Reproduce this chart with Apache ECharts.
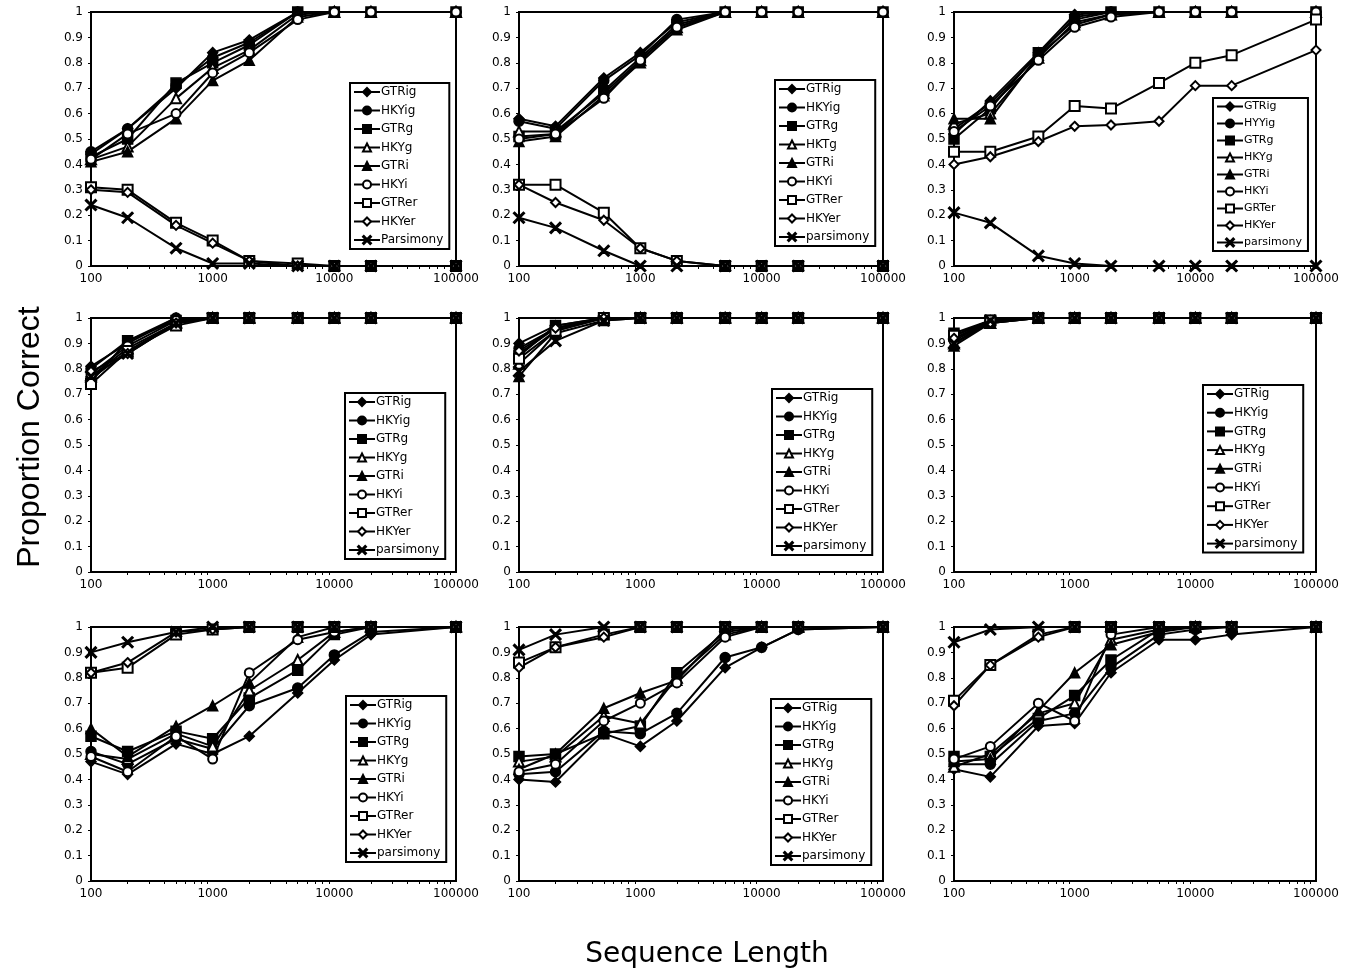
<!DOCTYPE html>
<html>
<head>
<meta charset="utf-8">
<script src="https://cdn.jsdelivr.net/npm/echarts@6/dist/echarts.min.js"></script>
<style>
html, body { margin: 0; padding: 0; background: #fff; }
#main { width: 1348px; height: 975px; }
</style>
</head>
<body>
<div id="main"></div>
<script>
var xValues = [100, 200, 500, 1000, 2000, 5000, 10000, 20000, 100000];

// legend names per panel (panel 9 has no legend)
var namesStd = ['GTRig', 'HKYig', 'GTRg', 'HKYg', 'GTRi', 'HKYi', 'GTRer', 'HKYer', 'parsimony'];
var names1 = ['GTRig', 'HKYig', 'GTRg', 'HKYg', 'GTRi', 'HKYi', 'GTRer', 'HKYer', 'Parsimony'];
var names2 = ['GTRig', 'HKYig', 'GTRg', 'HKTg', 'GTRi', 'HKYi', 'GTRer', 'HKYer', 'parsimony'];
var names3 = ['GTRig', 'HYYig', 'GTRg', 'HKYg', 'GTRi', 'HKYi', 'GRTer', 'HKYer', 'parsimony'];

// proportion correct, one row per series, one column per sequence length
var panel1 = [
	[0.44, 0.54, 0.70, 0.84, 0.89, 1, 1, 1, 1],
	[0.45, 0.54, 0.71, 0.82, 0.88, 1, 1, 1, 1],
	[0.43, 0.50, 0.72, 0.80, 0.87, 1, 1, 1, 1],
	[0.42, 0.47, 0.66, 0.78, 0.85, 0.99, 1, 1, 1],
	[0.41, 0.45, 0.58, 0.73, 0.81, 0.98, 1, 1, 1],
	[0.42, 0.52, 0.60, 0.76, 0.84, 0.97, 1, 1, 1],
	[0.31, 0.30, 0.17, 0.10, 0.02, 0.01, 0, 0, 0],
	[0.30, 0.29, 0.16, 0.09, 0.02, 0, 0, 0, 0],
	[0.24, 0.19, 0.07, 0.01, 0.01, 0, 0, 0, 0]
];
var panel2 = [
	[0.58, 0.55, 0.74, 0.84, 0.96, 1, 1, 1, 1],
	[0.57, 0.54, 0.73, 0.83, 0.97, 1, 1, 1, 1],
	[0.51, 0.52, 0.69, 0.82, 0.95, 1, 1, 1, 1],
	[0.53, 0.53, 0.68, 0.81, 0.94, 1, 1, 1, 1],
	[0.49, 0.51, 0.67, 0.80, 0.93, 1, 1, 1, 1],
	[0.50, 0.52, 0.66, 0.81, 0.94, 1, 1, 1, 1],
	[0.32, 0.32, 0.21, 0.07, 0.02, 0, 0, 0, 0],
	[0.32, 0.25, 0.18, 0.07, 0.02, 0, 0, 0, 0],
	[0.19, 0.15, 0.06, 0, 0, 0, 0, 0, 0]
];
var panel3 = [
	[0.52, 0.65, 0.84, 0.99, 1, 1, 1, 1, 1],
	[0.54, 0.64, 0.83, 0.98, 1, 1, 1, 1, 1],
	[0.50, 0.62, 0.84, 0.97, 1, 1, 1, 1, 1],
	[0.56, 0.60, 0.82, 0.96, 0.99, 1, 1, 1, 1],
	[0.58, 0.58, 0.83, 0.95, 0.99, 1, 1, 1, 1],
	[0.53, 0.63, 0.81, 0.94, 0.98, 1, 1, 1, 1],
	[0.45, 0.45, 0.51, 0.63, 0.62, 0.72, 0.80, 0.83, 0.97],
	[0.40, 0.43, 0.49, 0.55, 0.555, 0.57, 0.71, 0.71, 0.85],
	[0.21, 0.17, 0.04, 0.01, 0, 0, 0, 0, 0]
];
var panel4 = [
	[0.81, 0.90, 1, 1, 1, 1, 1, 1, 1],
	[0.80, 0.91, 1, 1, 1, 1, 1, 1, 1],
	[0.75, 0.91, 0.99, 1, 1, 1, 1, 1, 1],
	[0.77, 0.88, 0.98, 1, 1, 1, 1, 1, 1],
	[0.76, 0.87, 0.98, 1, 1, 1, 1, 1, 1],
	[0.78, 0.89, 0.99, 1, 1, 1, 1, 1, 1],
	[0.74, 0.87, 0.97, 1, 1, 1, 1, 1, 1],
	[0.79, 0.86, 0.98, 1, 1, 1, 1, 1, 1],
	[0.77, 0.86, 0.98, 1, 1, 1, 1, 1, 1]
];
var panel5 = [
	[0.90, 0.97, 1, 1, 1, 1, 1, 1, 1],
	[0.88, 0.96, 1, 1, 1, 1, 1, 1, 1],
	[0.85, 0.97, 1, 1, 1, 1, 1, 1, 1],
	[0.82, 0.95, 1, 1, 1, 1, 1, 1, 1],
	[0.77, 0.94, 0.99, 1, 1, 1, 1, 1, 1],
	[0.86, 0.96, 1, 1, 1, 1, 1, 1, 1],
	[0.84, 0.95, 1, 1, 1, 1, 1, 1, 1],
	[0.87, 0.96, 1, 1, 1, 1, 1, 1, 1],
	[0.79, 0.91, 0.99, 1, 1, 1, 1, 1, 1]
];
var panel6 = [
	[0.93, 0.99, 1, 1, 1, 1, 1, 1, 1],
	[0.92, 0.99, 1, 1, 1, 1, 1, 1, 1],
	[0.94, 0.99, 1, 1, 1, 1, 1, 1, 1],
	[0.90, 0.98, 1, 1, 1, 1, 1, 1, 1],
	[0.89, 0.98, 1, 1, 1, 1, 1, 1, 1],
	[0.91, 0.99, 1, 1, 1, 1, 1, 1, 1],
	[0.93, 0.99, 1, 1, 1, 1, 1, 1, 1],
	[0.92, 0.98, 1, 1, 1, 1, 1, 1, 1],
	[0.90, 0.99, 1, 1, 1, 1, 1, 1, 1]
];
var panel7 = [
	[0.47, 0.42, 0.54, 0.50, 0.57, 0.74, 0.87, 0.97, 1],
	[0.51, 0.46, 0.56, 0.52, 0.69, 0.76, 0.89, 0.98, 1],
	[0.57, 0.51, 0.59, 0.56, 0.72, 0.83, 0.97, 1, 1],
	[0.50, 0.48, 0.58, 0.53, 0.75, 0.87, 0.98, 1, 1],
	[0.60, 0.49, 0.61, 0.69, 0.78, 0.96, 1, 1, 1],
	[0.49, 0.43, 0.57, 0.48, 0.82, 0.95, 0.98, 1, 1],
	[0.82, 0.84, 0.97, 0.99, 1, 1, 1, 1, 1],
	[0.82, 0.86, 0.98, 0.99, 1, 1, 1, 1, 1],
	[0.90, 0.94, 0.98, 1, 1, 1, 1, 1, 1]
];
var panel8 = [
	[0.40, 0.39, 0.58, 0.53, 0.63, 0.84, 0.92, 0.99, 1],
	[0.42, 0.43, 0.59, 0.58, 0.66, 0.88, 0.92, 0.99, 1],
	[0.49, 0.50, 0.58, 0.61, 0.82, 0.98, 1, 1, 1],
	[0.47, 0.49, 0.65, 0.62, 0.80, 0.97, 1, 1, 1],
	[0.44, 0.50, 0.68, 0.74, 0.79, 0.99, 1, 1, 1],
	[0.43, 0.46, 0.63, 0.70, 0.78, 0.96, 1, 1, 1],
	[0.86, 0.92, 0.97, 1, 1, 1, 1, 1, 1],
	[0.84, 0.92, 0.96, 1, 1, 1, 1, 1, 1],
	[0.91, 0.97, 1, 1, 1, 1, 1, 1, 1]
];
var panel9 = [
	[0.44, 0.41, 0.61, 0.62, 0.82, 0.95, 0.95, 0.97, 1],
	[0.46, 0.46, 0.63, 0.66, 0.84, 0.97, 0.99, 1, 1],
	[0.49, 0.49, 0.64, 0.73, 0.87, 0.99, 1, 1, 1],
	[0.45, 0.50, 0.66, 0.70, 0.95, 0.99, 1, 1, 1],
	[0.47, 0.48, 0.67, 0.82, 0.93, 0.98, 1, 1, 1],
	[0.48, 0.53, 0.70, 0.63, 0.97, 1, 1, 1, 1],
	[0.71, 0.85, 0.97, 1, 1, 1, 1, 1, 1],
	[0.69, 0.85, 0.96, 1, 1, 1, 1, 1, 1],
	[0.94, 0.99, 1, 1, 1, 1, 1, 1, 1]
];

var panels = [panel1, panel2, panel3, panel4, panel5, panel6, panel7, panel8, panel9];
var panelNames = [names1, names2, names3, namesStd, namesStd, namesStd, namesStd, namesStd, namesStd];

var crossPath = 'path://M0,2L2,0L10,8L18,0L20,2L12,10L20,18L18,20L10,12L2,20L0,18L8,10Z';
var symbols = ['diamond', 'circle', 'rect', 'emptyTriangle', 'triangle', 'emptyCircle', 'emptyRect', 'emptyDiamond', crossPath];
var symbolSizes = [10, 10, 10, 10, 10, 9, 10, 9, 11];

var FONT = 'DejaVu Sans';

// plot boxes: [left, top, width, height]
var colLeft = [91, 519, 954];
var colWidth = [365, 364, 362];
var rowTop = [12, 318, 627];
var rowHeight = 254;

// legend boxes [left, top, itemGap, fontSize]
var legendPos = [
	[350, 83, 6.5, 12],
	[775, 80, 6.5, 12],
	[1213, 98, 6, 11],
	[345, 393, 6.5, 12],
	[772, 389, 6.5, 12],
	[1203, 385, 6.7, 12],
	[346, 696, 6.5, 12],
	[771, 699, 6.5, 12]
];

function drawPanels() {
	var dom = document.getElementById('main');
	var myChart = echarts.init(dom);
	var grids = [], xAxes = [], yAxes = [], series = [], legends = [];
	for (var p = 0; p < 9; p++) {
		var r = Math.floor(p / 3), c = p % 3;
		grids.push({
			left: colLeft[c],
			top: rowTop[r],
			width: colWidth[c],
			height: rowHeight,
			show: true,
			borderColor: '#000',
			borderWidth: 2,
			backgroundColor: 'transparent'
		});
		xAxes.push({
			type: 'log',
			logBase: 10,
			min: 100,
			max: 100000,
			gridIndex: p,
			splitNumber: 3,
			axisLine: { lineStyle: { color: '#000', width: 2 } },
			axisTick: { show: false },
			minorTick: { show: true, splitNumber: 9, length: 3, lineStyle: { color: '#000', width: 1 } },
			splitLine: { show: false },
			axisLabel: {
				color: '#000',
				fontFamily: FONT,
				fontSize: 12,
				margin: 7,
				formatter: function (v) { return String(Math.round(v)); }
			}
		});
		yAxes.push({
			type: 'value',
			min: 0,
			max: 1,
			interval: 0.1,
			gridIndex: p,
			axisLine: { show: true, lineStyle: { color: '#000', width: 2 } },
			axisTick: { show: true, length: 3, lineStyle: { color: '#000', width: 1 } },
			splitLine: { show: false },
			axisLabel: {
				color: '#000',
				fontFamily: FONT,
				fontSize: 12,
				margin: 8,
				formatter: function (v) { return String(Math.round(v * 10) / 10); }
			}
		});
		var vals = panels[p];
		for (var s = 0; s < vals.length; s++) {
			var pts = [];
			for (var k = 0; k < xValues.length; k++) {
				pts.push([xValues[k], vals[s][k]]);
			}
			series.push({
				name: panelNames[p][s],
				type: 'line',
				xAxisIndex: p,
				yAxisIndex: p,
				data: pts,
				symbol: symbols[s],
				symbolSize: symbolSizes[s],
				showAllSymbol: true,
				lineStyle: { color: '#000', width: 2 },
				itemStyle: { color: '#000', borderColor: '#000', borderWidth: 1.5 },
				emphasis: { disabled: true },
				animation: false
			});
		}
		if (p < 8) {
			var lp = legendPos[p];
			legends.push({
				orient: 'vertical',
				left: lp[0],
				top: lp[1],
				itemGap: lp[2],
				itemWidth: 26,
				itemHeight: 10,
				padding: [3, 6, 3, 3],
				borderColor: '#000',
				borderWidth: 2,
				backgroundColor: '#fff',
				selectedMode: false,
				data: panelNames[p],
				textStyle: { color: '#000', fontFamily: FONT, fontSize: lp[3], padding: [0, 0, 0, -4] }
			});
		}
	}
	var option = {
		backgroundColor: '#fff',
		animation: false,
		grid: grids,
		xAxis: xAxes,
		yAxis: yAxes,
		legend: legends,
		series: series,
		graphic: [
			{
				type: 'text',
				x: 30,
				y: 437,
				rotation: Math.PI / 2,
				style: {
					text: 'Proportion Correct',
					fill: '#000',
					font: '32px "Liberation Sans"',
					textAlign: 'center',
					textVerticalAlign: 'middle'
				}
			},
			{
				type: 'text',
				x: 707,
				y: 955,
				style: {
					text: 'Sequence Length',
					fill: '#000',
					font: '28px "DejaVu Sans"',
					textAlign: 'center',
					textVerticalAlign: 'middle'
				}
			}
		]
	};
	myChart.setOption(option, true);
}

drawPanels();
</script>
</body>
</html>
